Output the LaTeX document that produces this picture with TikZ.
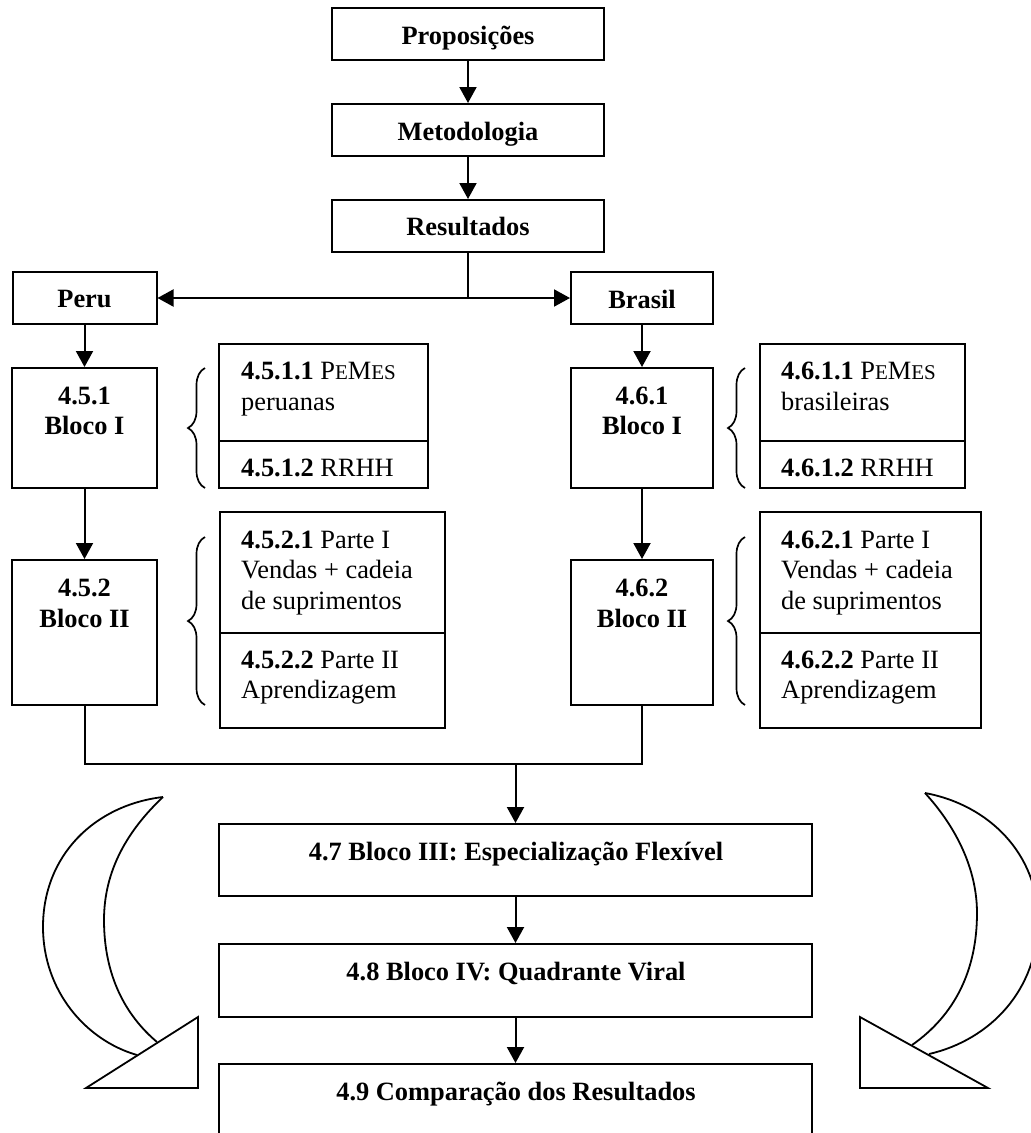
\documentclass[tikz,border=0pt]{standalone}
\usepackage{fontspec}
\setmainfont{Liberation Serif}
\usetikzlibrary{arrows.meta,decorations.pathreplacing}
\newcommand\mysmc[1]{{\fontsize{21}{21}\selectfont #1}}
\begin{document}
\begin{tikzpicture}[x=1pt,y=-1pt,
  bx/.style={draw, line width=2pt, inner sep=0pt, rectangle},
  tb/.style={inner sep=0pt, anchor=base, font=\fontsize{26.4}{30}\selectfont\bfseries},
  tl/.style={inner sep=0pt, anchor=base west, font=\fontsize{26.4}{30}\selectfont},
  arr/.style={line width=2pt, -{Triangle[length=16pt,width=17pt]}},
  ln/.style={line width=2pt},
  brc/.style={line width=1.7pt, decorate, decoration={brace, amplitude=17pt}},
  crv/.style={line width=1.8pt, line join=miter}]
\useasboundingbox (0,0) rectangle (1031,1133);

% boxes
\node[bx, minimum width=272, minimum height=52] (prop) at (468,34) {};
\node[bx, minimum width=272, minimum height=52] (met) at (468,130) {};
\node[bx, minimum width=272, minimum height=52] (res) at (468,226) {};
\node[bx, minimum width=144, minimum height=52] (peru) at (84.5,298) {};
\node[bx, minimum width=142, minimum height=52] (brasil) at (642,298) {};
\node[bx, minimum width=145, minimum height=120] (b451) at (84.5,428) {};
\node[bx, minimum width=209, minimum height=97] (s4511) at (323.5,392.5) {};
\node[bx, minimum width=209, minimum height=47] (s4512) at (323.5,464.5) {};
\node[bx, minimum width=142, minimum height=120] (b461) at (642,428) {};
\node[bx, minimum width=205, minimum height=97] (s4611) at (862.5,392.5) {};
\node[bx, minimum width=205, minimum height=47] (s4612) at (862.5,464.5) {};
\node[bx, minimum width=145, minimum height=145] (b452) at (84.5,632.5) {};
\node[bx, minimum width=225, minimum height=121] (s4521) at (332.5,572.5) {};
\node[bx, minimum width=225, minimum height=95] (s4522) at (332.5,680.5) {};
\node[bx, minimum width=142, minimum height=145] (b462) at (642,632.5) {};
\node[bx, minimum width=221, minimum height=121] (s4621) at (870.5,572.5) {};
\node[bx, minimum width=221, minimum height=95] (s4622) at (870.5,680.5) {};
\node[bx, minimum width=593, minimum height=72] (b47) at (515.5,860) {};
\node[bx, minimum width=593, minimum height=73] (b48) at (515.5,980.5) {};
\node[bx, minimum width=593, minimum height=86] (b49) at (515.5,1107) {};

% texts
\node[tb] (tprop) at (468,44) {Proposições};
\node[tb] (tmet) at (468,140) {Metodologia};
\node[tb] (tres) at (468,235) {Resultados};
\node[tb] (tperu) at (84.5,307) {Peru};
\node[tb] (tbrasil) at (642,308) {Brasil};
\node[tb] (t451a) at (84.5,404) {4.5.1};
\node[tb] (t451b) at (84.5,434) {Bloco I};
\node[tb] (t461a) at (642,404) {4.6.1};
\node[tb] (t461b) at (642,434) {Bloco I};
\node[tl] (t4511a) at (241,379) {\textbf{4.5.1.1} P\mysmc{E}M\mysmc{ES}};
\node[tl] (t4511b) at (241,410) {peruanas};
\node[tl] (t4512) at (241,476) {\textbf{4.5.1.2} RRHH};
\node[tl] (t4611a) at (781,379) {\textbf{4.6.1.1} P\mysmc{E}M\mysmc{ES}};
\node[tl] (t4611b) at (781,410) {brasileiras};
\node[tl] (t4612) at (781,476) {\textbf{4.6.1.2} RRHH};
\node[tb] (t452a) at (84.5,596) {4.5.2};
\node[tb] (t452b) at (84.5,627) {Bloco II};
\node[tb] (t462a) at (642,596) {4.6.2};
\node[tb] (t462b) at (642,627) {Bloco II};
\node[tl] (t4521a) at (241,548) {\textbf{4.5.2.1} Parte I};
\node[tl] (t4521b) at (241,578) {Vendas + cadeia};
\node[tl] (t4521c) at (241,609) {de suprimentos};
\node[tl] (t4522a) at (241,668) {\textbf{4.5.2.2} Parte II};
\node[tl] (t4522b) at (241,698) {Aprendizagem};
\node[tl] (t4621a) at (781,548) {\textbf{4.6.2.1} Parte I};
\node[tl] (t4621b) at (781,578) {Vendas + cadeia};
\node[tl] (t4621c) at (781,609) {de suprimentos};
\node[tl] (t4622a) at (781,668) {\textbf{4.6.2.2} Parte II};
\node[tl] (t4622b) at (781,698) {Aprendizagem};
\node[tb] (t47) at (516,860) {4.7 Bloco III: Especialização Flexível};
\node[tb] (t48) at (516,980) {4.8 Bloco IV: Quadrante Viral};
\node[tb] (t49) at (516,1100) {4.9 Comparação dos Resultados};

% connectors
\draw[arr] (prop) -- (met);
\draw[arr] (met) -- (res);
\coordinate (split) at (468,298);
\draw[ln] (res.south) -- (split);
\draw[arr] (split) -- (peru.east);
\draw[arr] (split) -- (brasil.west);
\draw[arr] (peru) -- (b451);
\draw[arr] (b451) -- (b452);
\draw[arr] (brasil) -- (b461);
\draw[arr] (b461) -- (b462);
\coordinate (join) at (515.5,764);
\draw[ln] (b452.south) |- (join) -| (b462.south);
\draw[arr] (join) -- (b47);
\draw[arr] (b47) -- (b48);
\draw[arr] (b48) -- (b49);

% braces
\draw[brc] (205,488) -- (205,368);
\draw[brc] (745,488) -- (745,368);
\draw[brc] (205,705) -- (205,537);
\draw[brc] (745,705) -- (745,537);

% curved arrows
\draw[crv] (163,797) .. controls (95,805) and (43,855) .. (43,927)
  .. controls (43,990) and (85,1040) .. (137,1055);
\draw[crv] (163,797) .. controls (128,830) and (104,870) .. (104,920)
  .. controls (104,975) and (125,1015) .. (157,1042);
\draw[crv] (86,1088) -- (198,1017) -- (198,1088) -- cycle;
\draw[crv] (925,793) .. controls (990,805) and (1038,855) .. (1038,920)
  .. controls (1038,990) and (990,1040) .. (929,1054);
\draw[crv] (925,793) .. controls (957,828) and (977,870) .. (977,913)
  .. controls (977,970) and (955,1015) .. (912,1045);
\draw[crv] (860,1017) -- (860,1088) -- (988,1088) -- cycle;
\end{tikzpicture}
\end{document}
